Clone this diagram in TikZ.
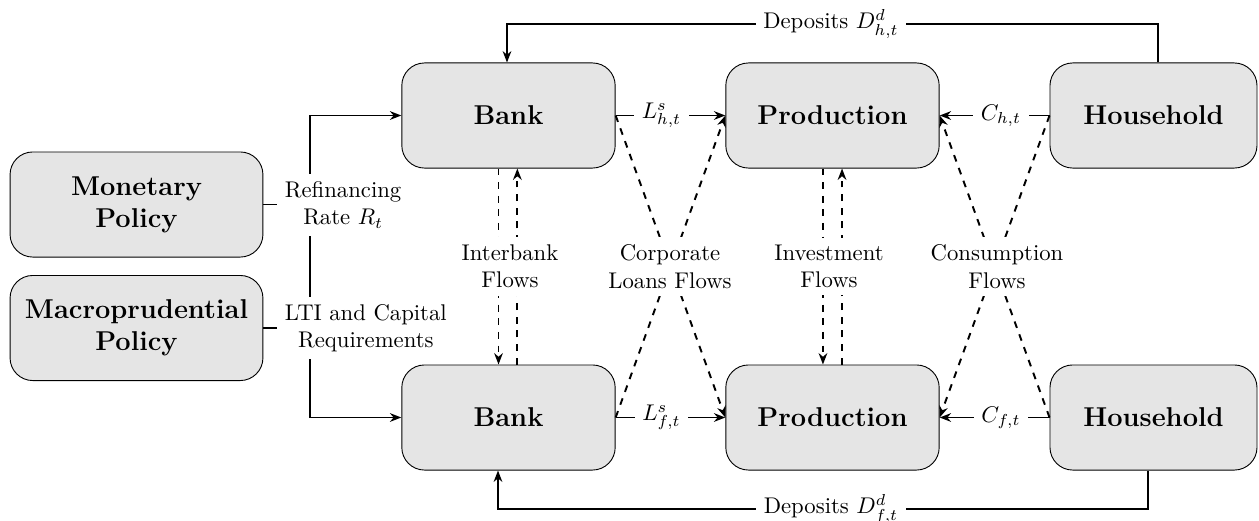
\documentclass[tikz,border=0pt]{standalone}
\usetikzlibrary{arrows.meta}
\begin{document}
\begin{tikzpicture}[x=0.4405pt,y=-0.4405pt,
  >={Stealth[length=5pt,width=3.8pt,inset=1.6pt]},
  box/.style={draw,line width=0.4pt,fill=black!10,rounded corners=10pt,
    minimum height=46.3pt,align=center,font=\large\bfseries,inner sep=2pt},
  bankbox/.style={box,minimum width=94pt},
  polbox/.style={box,minimum width=111.4pt},
  hhbox/.style={box,minimum width=91.2pt},
  conn/.style={line width=0.85pt},
  flow/.style={line width=0.85pt,dashed},
  lab/.style={fill=white,align=center,inner sep=3.3pt,font=\normalsize}]
\useasboundingbox (0,0) rectangle (1259,520);

% boxes
\node[polbox] (mon) at (136.5,204.5) {Monetary\\Policy};
\node[polbox] (mac) at (136.5,328) {Macroprudential\\Policy};
\node[bankbox] (bankT) at (508.5,115.5) {Bank};
\node[bankbox] (prodT) at (832.5,115.5) {Production};
\node[hhbox]   (hhT)   at (1153.5,115.5) {Household};
\node[bankbox] (bankB) at (508.5,417.5) {Bank};
\node[bankbox] (prodB) at (832.5,417.5) {Production};
\node[hhbox]   (hhB)   at (1153.5,417.5) {Household};

% policy connectors
\coordinate (jT) at (310,115.5);
\coordinate (jB) at (310,417.5);
\draw[conn,->] (mon.east) -| (jT) -- (bankT.west);
\draw[conn,->] (mon.east) -| (jB) -- (bankB.west);
\draw[conn] (mac.east) -- (mac.east -| jT);
\node[lab,anchor=west] (refi) at (277,205) {Refinancing\\Rate $R_t$};
\node[lab,anchor=west] (lti) at (277,328) {LTI and Capital\\Requirements};

% deposits
\coordinate (dT1) at (1158,24);
\coordinate (dT2) at (507,24);
\coordinate (dB1) at (1148,509);
\coordinate (dB2) at (498,509);
\draw[conn,->] (hhT.north -| dT1) -- (dT1) -- (dT2) -- (bankT.north -| dT2);
\draw[conn,->] (hhB.south -| dB1) -- (dB1) -- (dB2) -- (bankB.south -| dB2);
\node[lab] (depT) at (831,24) {Deposits $D^d_{h,t}$};
\node[lab] (depB) at (831,509) {Deposits $D^d_{f,t}$};

% horizontal flows
\draw[conn,->] (bankT.east) -- (prodT.west);
\draw[conn,->] (hhT.west) -- (prodT.east);
\draw[conn,->] (bankB.east) -- (prodB.west);
\draw[conn,->] (hhB.west) -- (prodB.east);
\node[lab] (lsh) at (661.5,115.5) {$L^s_{h,t}$};
\node[lab] (chh) at (1001,115.5) {$C_{h,t}$};
\node[lab] (lsf) at (661.5,417.5) {$L^s_{f,t}$};
\node[lab] (cff) at (1001,417.5) {$C_{f,t}$};

% vertical dashed flows
\draw[flow,->] ([xshift=-4.4pt]bankT.south) -- ([xshift=-4.4pt]bankB.north);
\draw[flow,->] ([xshift=3.9pt]bankB.north) -- ([xshift=3.9pt]bankT.south);
\draw[flow,->] ([xshift=-4.2pt]prodT.south) -- ([xshift=-4.2pt]prodB.north);
\draw[flow,->] ([xshift=4.2pt]prodB.north) -- ([xshift=4.2pt]prodT.south);

% diagonal dashed flows
\draw[flow,->] (bankT.east) -- (prodB.west);
\draw[flow,->] (bankB.east) -- (prodT.west);
\draw[flow,->] (hhT.west) -- (prodB.east);
\draw[flow,->] (hhB.west) -- (prodT.east);

% flow labels
\node[lab] (ib) at (510,266.5) {Interbank\\Flows};
\node[lab] (cl) at (670,266.5) {Corporate\\Loans Flows};
\node[lab] (inv) at (829,266.5) {Investment\\Flows};
\node[lab] (cons) at (997,266.5) {Consumption\\Flows};
\end{tikzpicture}
\end{document}
